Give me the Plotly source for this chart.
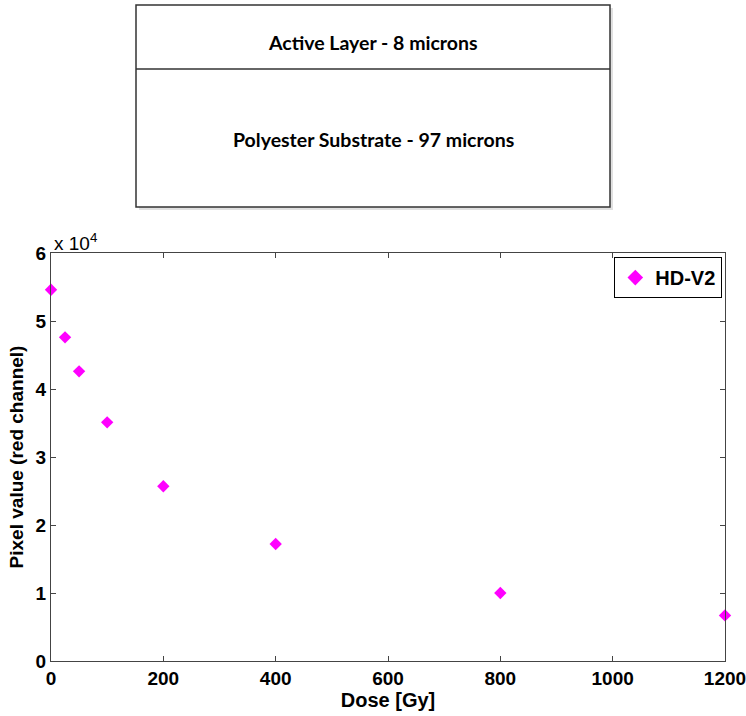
import plotly.graph_objects as go

# Film response: red-channel pixel value versus absorbed dose
dose_gy = [0, 25, 50, 100, 200, 400, 800, 1200]
pixel_value = [54600, 47600, 42600, 35100, 25700, 17200, 10000, 6700]

x_ticks = [0, 200, 400, 600, 800, 1000, 1200]
y_tick_vals = [0, 10000, 20000, 30000, 40000, 50000, 60000]
y_tick_text = ["0", "1", "2", "3", "4", "5", "6"]

layer_labels = ["Active Layer - 8 microns", "Polyester Substrate - 97 microns"]
series_name = "HD-V2"

W, H = 746, 716
L, R, T, B = 51, 725, 253, 661  # plot area in pixels


def px(x):
    return (x - L) / (R - L)


def py(y):
    return (B - y) / (B - T)


fig = go.Figure()
fig.add_trace(go.Scatter(
    x=dose_gy, y=pixel_value, mode="markers", name=series_name,
    marker=dict(symbol="diamond", size=9.5, color="#FF00FF", line=dict(width=0)),
    cliponaxis=False,
))

base = "Liberation Sans, Arial, sans-serif"
tick_font = dict(family=base, size=19, color="black", weight="bold")

fig.update_layout(
    width=W, height=H,
    margin=dict(l=L, r=W - R, t=T, b=H - B, autoexpand=False),
    plot_bgcolor="white", paper_bgcolor="white",
    showlegend=True,
    legend=dict(
        x=0.996, y=0.99, xanchor="right", yanchor="top",
        bordercolor="black", borderwidth=1, bgcolor="white",
        font=dict(family=base, size=20, color="black", weight="bold"),
        itemsizing="constant", tracegroupgap=0, itemwidth=30,
    ),
    xaxis=dict(
        range=[0, 1200], tickvals=x_ticks, ticks="inside", ticklen=5,
        showline=True, linecolor="#444", linewidth=1, mirror="ticks",
        showgrid=False, zeroline=False, tickfont=tick_font, automargin=False,
        ticklabeloverflow="allow",
        title=dict(text="Dose [Gy]", font=dict(family=base, size=20, color="black", weight="bold"),
                   standoff=4),
    ),
    yaxis=dict(
        range=[0, 60000], tickvals=y_tick_vals, ticktext=y_tick_text,
        ticks="inside", ticklen=5,
        showline=True, linecolor="#444", linewidth=1, mirror="ticks",
        showgrid=False, zeroline=False, tickfont=tick_font, automargin=False,
        ticklabeloverflow="allow",
        title=dict(text="Pixel value (red channel)",
                   font=dict(family=base, size=19, color="black", weight="bold"), standoff=6),
    ),
)

# Exponent label above the y axis
fig.add_annotation(
    x=px(52), y=py(242), xref="paper", yref="paper", xanchor="left", yanchor="middle",
    text="x 10<sup>4</sup>", showarrow=False,
    font=dict(family=base, size=19, color="black"),
)

# Layer structure diagram above the plot
bx0, bx1 = px(136), px(610)
by_top, by_div, by_bot = py(5), py(69), py(207)
fig.add_shape(type="rect", xref="paper", yref="paper",
              x0=px(139), x1=px(613), y0=py(210), y1=py(8),
              line=dict(width=0), fillcolor="rgba(0,0,0,0.12)", layer="below")
fig.add_shape(type="rect", xref="paper", yref="paper",
              x0=bx0, x1=bx1, y0=by_bot, y1=by_top,
              line=dict(color="#333", width=1.5), fillcolor="white")
fig.add_shape(type="line", xref="paper", yref="paper",
              x0=bx0, x1=bx1, y0=by_div, y1=by_div,
              line=dict(color="#333", width=1.5))

diagram_font = dict(family="Lato, Open Sans, sans-serif", size=19.5, color="black", weight="bold")
fig.add_annotation(x=(bx0 + bx1) / 2, y=py(42), xref="paper", yref="paper",
                   xanchor="center", yanchor="middle",
                   text=layer_labels[0], showarrow=False, font=diagram_font)
fig.add_annotation(x=(bx0 + bx1) / 2, y=py(139), xref="paper", yref="paper",
                   xanchor="center", yanchor="middle",
                   text=layer_labels[1], showarrow=False, font=diagram_font)

fig.write_html("out.html")
